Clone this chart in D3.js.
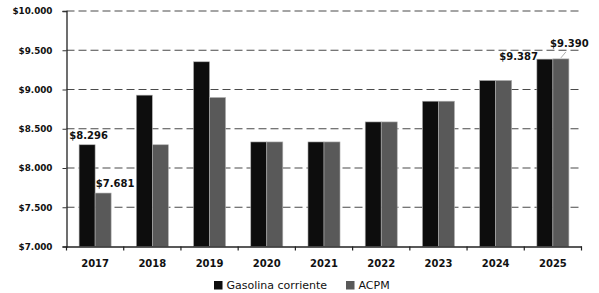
<!DOCTYPE html>
<html><head><meta charset="utf-8">
<script src="https://cdn.jsdelivr.net/npm/d3@7"></script>
<style>body{margin:0;background:#fff}</style>
</head><body>
<svg id="c" width="599" height="293"></svg>
<script>
const years = ["2017","2018","2019","2020","2021","2022","2023","2024","2025"];
const gasolina = [8296, 8928, 9353, 8332, 8332, 8587, 8851, 9115, 9387];
const acpm = [7681, 8296, 8898, 8332, 8332, 8587, 8851, 9115, 9390];
const seriesNames = ["Gasolina corriente", "ACPM"];
const seriesColors = ["#0d0d0d", "#595959"];
const yTicks = [7000, 7500, 8000, 8500, 9000, 9500, 10000];
const fmt = v => "$" + d3.format(",")(v).replace(/,/g, ".");

const svg = d3.select("#c");
const pLeft = 66.5, pRight = 581.5, pTop = 11, pBottom = 246.5;
const x0 = d3.scaleBand().domain(years).range([pLeft, pRight]).paddingInner(0.44).paddingOuter(0.22);
const x1 = d3.scaleBand().domain([0,1]).range([0, x0.bandwidth()]);
const y = d3.scaleLinear().domain([7000, 10000]).range([pBottom, pTop]);

// gridlines
svg.append("g").selectAll("line").data(yTicks.filter(t => t > 7000)).join("line")
  .attr("x1", pLeft).attr("x2", pRight).attr("y1", d => y(d)).attr("y2", d => y(d))
  .attr("stroke", "#4a4a4a").attr("stroke-width", 1.2).attr("stroke-dasharray", "8,4");

// bars
const data = years.map((yr, i) => ({yr, vals: [gasolina[i], acpm[i]]}));
const g = svg.append("g").selectAll("g").data(data).join("g")
  .attr("transform", d => `translate(${x0(d.yr)},0)`);
g.selectAll("rect").data(d => d.vals.map((v, k) => ({v, k}))).join("rect")
  .attr("x", d => x1(d.k)).attr("width", x1.bandwidth())
  .attr("y", d => y(d.v)).attr("height", d => y(7000) - y(d.v))
  .attr("fill", d => seriesColors[d.k])
  .attr("stroke", "#b0b0b0").attr("stroke-width", 0.6);

// y axis
const ya = svg.append("g").attr("transform", `translate(${pLeft},0)`)
  .call(d3.axisLeft(y).tickValues(yTicks).tickFormat(fmt).tickSize(4).tickPadding(10));
ya.select(".domain").attr("stroke", "#222").attr("stroke-width", 1.3);
ya.selectAll(".tick line").attr("stroke", "#333");
ya.selectAll("text").attr("font-family", "DejaVu Sans").attr("font-weight", "bold")
  .attr("font-size", "8.8px").attr("fill", "#111");

// x axis
const xa = svg.append("g").attr("transform", `translate(0,${pBottom})`)
  .call(d3.axisBottom(x0).tickSize(0).tickPadding(13));
xa.select(".domain").attr("stroke", "#222").attr("stroke-width", 1.3);
xa.selectAll("text").attr("font-family", "DejaVu Sans").attr("font-weight", "bold")
  .attr("font-size", "10px").attr("fill", "#111");
// boundary ticks
const bounds = years.map(yr => x0(yr) - x0.step() * x0.paddingOuter()).concat([pRight]);
svg.append("g").selectAll("line").data(bounds).join("line")
  .attr("x1", d => d).attr("x2", d => d).attr("y1", pBottom).attr("y2", pBottom + 4)
  .attr("stroke", "#222").attr("stroke-width", 1.2);

// data labels
const lab = (txt, xx, yy, anchor) => svg.append("text").text(txt)
  .attr("x", xx).attr("y", yy).attr("text-anchor", anchor)
  .attr("font-family", "DejaVu Sans").attr("font-weight", "bold").attr("font-size", "10px").attr("fill", "#111");
const bx = (i, k) => x0(years[i]) + x1(k);
const bw = x1.bandwidth();
lab(fmt(gasolina[0]), bx(0,0) + bw/2 + 1.5, y(gasolina[0]) - 6, "middle");
lab(fmt(acpm[0]), bx(0,1) + bw/2 + 12, y(acpm[0]) - 6.5, "middle");
lab(fmt(gasolina[8]), bx(8,0) + 1, y(gasolina[8]) + 0.5, "end");
lab(fmt(acpm[8]), bx(8,1) + bw/2 + 8.5, y(acpm[8]) - 11.5, "middle");
svg.append("line").attr("x1", bx(8,1) + bw/2).attr("y1", y(acpm[8]) - 1)
  .attr("x2", bx(8,1) + bw/2 + 5).attr("y2", y(acpm[8]) - 7)
  .attr("stroke", "#999").attr("stroke-width", 0.8);

// legend
const leg = svg.append("g");
const lx = [214, 346];
seriesNames.forEach((n, i) => {
  leg.append("rect").attr("x", lx[i]).attr("y", 281).attr("width", 8.5).attr("height", 8.5).attr("fill", seriesColors[i]);
  leg.append("text").text(n).attr("x", lx[i] + 12.5).attr("y", 289)
    .attr("font-family", "DejaVu Sans").attr("font-size", "11px").attr("fill", "#111");
});
</script>
</body></html>
